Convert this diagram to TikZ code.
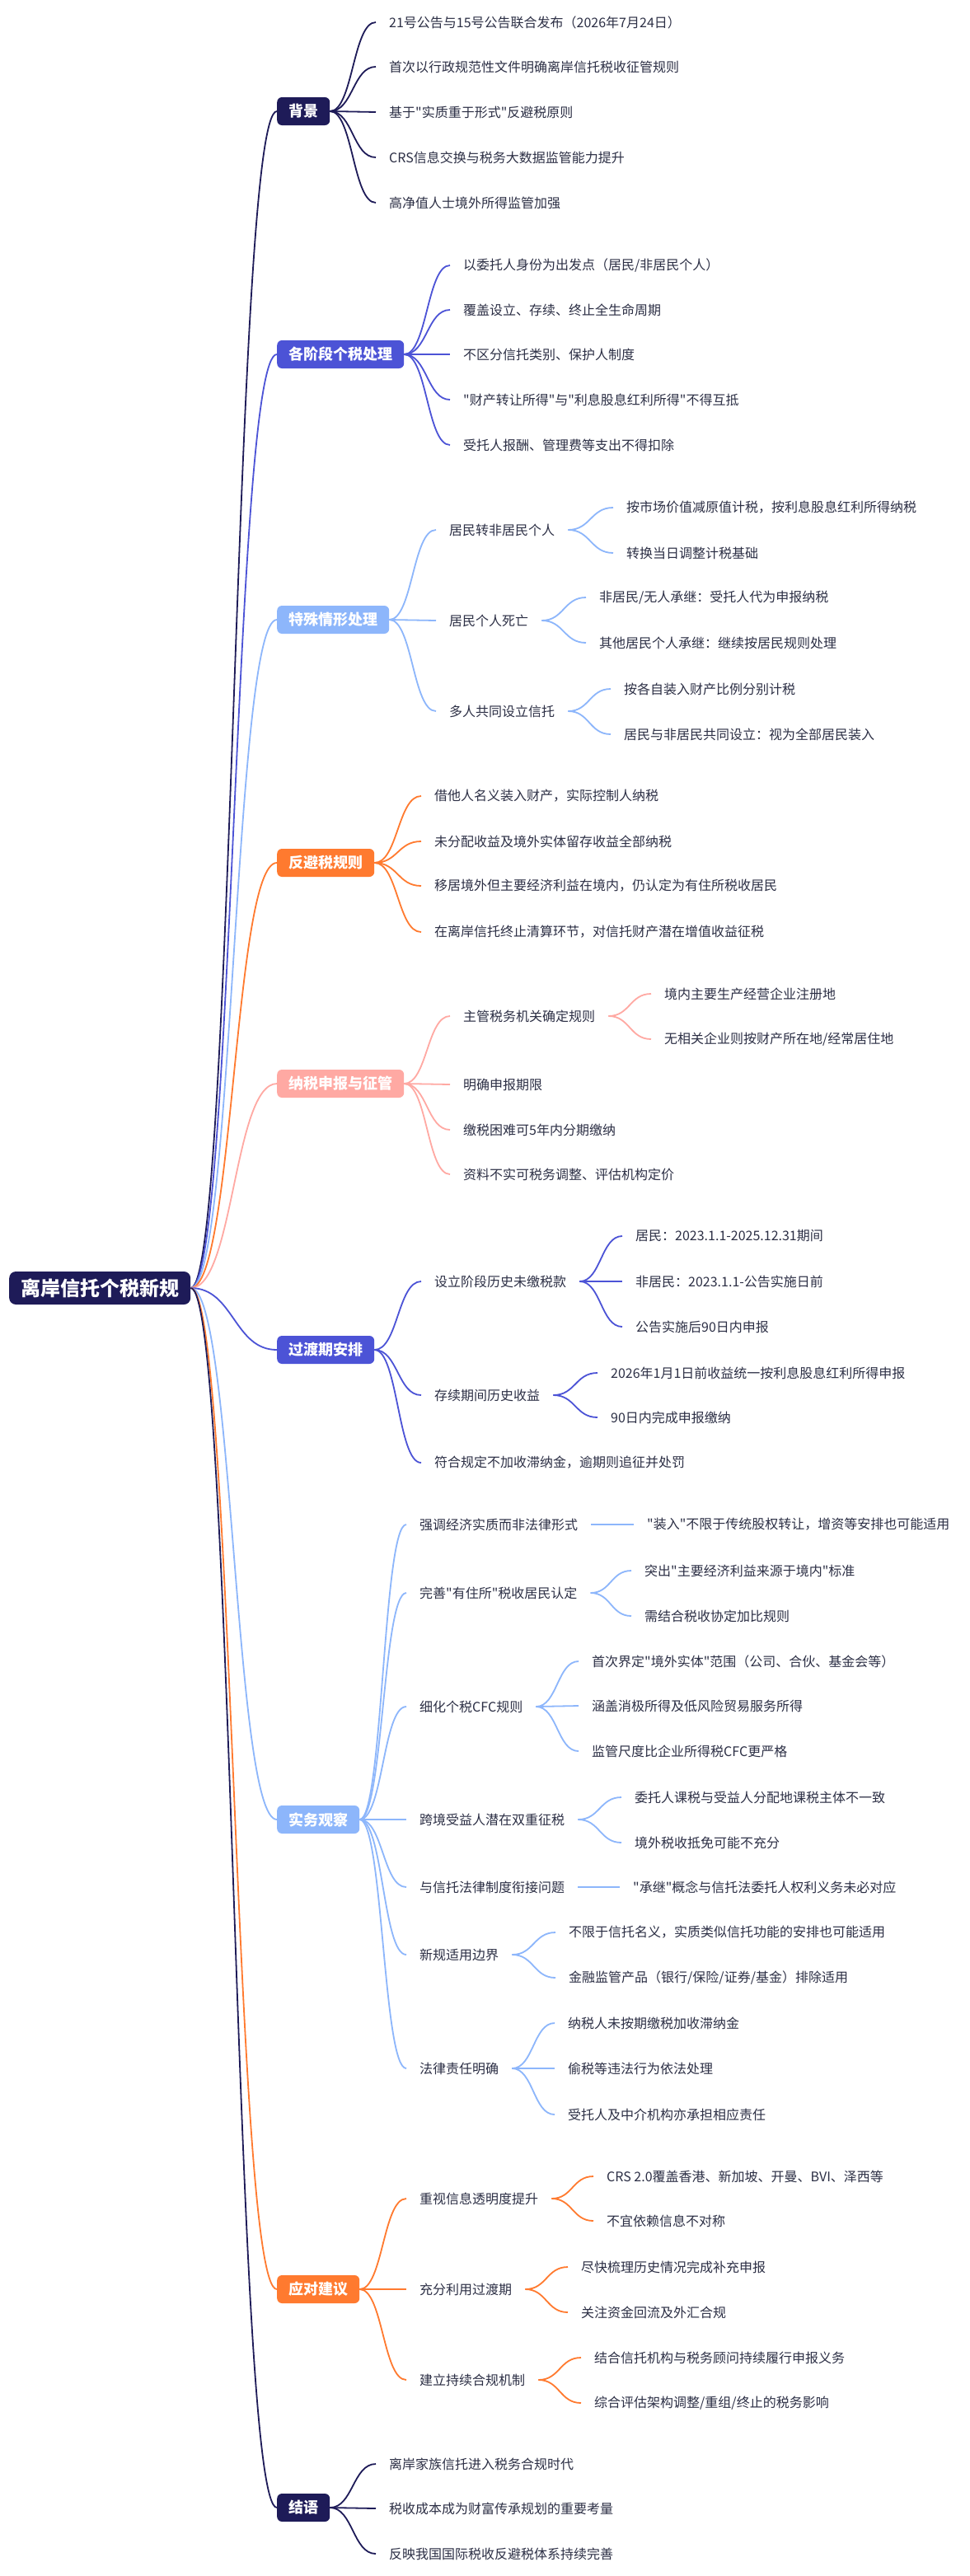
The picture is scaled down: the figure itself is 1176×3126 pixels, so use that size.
\documentclass[tikz,border=0pt]{standalone}
\usepackage{fontspec}
\setmainfont{Noto Sans CJK SC}
\newfontfamily\cjk{Noto Sans CJK SC}
\usetikzlibrary{calc}
\definecolor{cnavy}{HTML}{1E1B58}
\definecolor{cindigo}{HTML}{4C53D6}
\definecolor{clight}{HTML}{8DB6FB}
\definecolor{corange}{HTML}{FF7A2F}
\definecolor{cpink}{HTML}{FFA9A3}
\definecolor{cink}{HTML}{2C2F45}
\tikzset{
  root node/.style={fill=cnavy,text=white,font=\cjk\bfseries\fontsize{24}{28}\selectfont,rounded corners=8pt,minimum height=40pt,inner xsep=14pt,anchor=west},
  main node/.style={fill=#1,text=white,font=\cjk\bfseries\fontsize{18}{22}\selectfont,rounded corners=6pt,minimum height=34pt,inner xsep=14pt,anchor=west},
  leaf node/.style={text=cink,font=\cjk\fontsize{16}{20}\selectfont,inner xsep=16pt,inner ysep=2pt,anchor=west},
  link/.style={draw=#1,line width=1.8pt,
    to path={let \p1=(\tikztostart), \p2=(\tikztotarget) in
      (\p1) .. controls ({(\x1+\x2)/2},\y1) and ({(\x1+\x2)/2},\y2) .. (\p2)}}
}
\begin{document}
\begin{tikzpicture}[x=1pt,y=-1pt]
        \useasboundingbox[fill=white] (0,0) rectangle (1176,3126);
        % root and main branches
        \node[root node] at (11,1563) (root) {离岸信托个税新规};
        \node[main node=cnavy] at (336,135) (bg) {背景};
        \node[main node=cindigo] at (336,430) (st) {各阶段个税处理};
        \node[main node=clight] at (336,752) (sp) {特殊情形处理};
        \node[main node=corange] at (336,1047) (aa) {反避税规则};
        \node[main node=cpink] at (336,1315) (tx) {纳税申报与征管};
        \node[main node=cindigo] at (336,1638) (tr) {过渡期安排};
        \node[main node=clight] at (336,2208) (pr) {实务观察};
        \node[main node=corange] at (336,2778) (ad) {应对建议};
        \node[main node=cnavy] at (336,3043) (cc) {结语};

        % 背景
        \node[leaf node] at (456,27) (bg1) {21号公告与15号公告联合发布（2026年7月24日）};
        \node[leaf node] at (456,81) (bg2) {首次以行政规范性文件明确离岸信托税收征管规则};
        \node[leaf node] at (456,136) (bg3) {基于"实质重于形式"反避税原则};
        \node[leaf node] at (456,191) (bg4) {CRS信息交换与税务大数据监管能力提升};
        \node[leaf node] at (456,246) (bg5) {高净值人士境外所得监管加强};

        % 各阶段个税处理
        \node[leaf node] at (546,322) (st1) {以委托人身份为出发点（居民/非居民个人）};
        \node[leaf node] at (546,376) (st2) {覆盖设立、存续、终止全生命周期};
        \node[leaf node] at (546,430) (st3) {不区分信托类别、保护人制度};
        \node[leaf node] at (546,485) (st4) {"财产转让所得"与"利息股息红利所得"不得互抵};
        \node[leaf node] at (546,540) (st5) {受托人报酬、管理费等支出不得扣除};

        % 特殊情形处理
        \node[leaf node] at (529,643) (sp1) {居民转非居民个人};
        \node[leaf node] at (529,753) (sp2) {居民个人死亡};
        \node[leaf node] at (529,863) (sp3) {多人共同设立信托};
        \node[leaf node] at (744,616) (sp11) {按市场价值减原值计税，按利息股息红利所得纳税};
        \node[leaf node] at (744,671) (sp12) {转换当日调整计税基础};
        \node[leaf node] at (711,725) (sp21) {非居民/无人承继：受托人代为申报纳税};
        \node[leaf node] at (711,780) (sp22) {其他居民个人承继：继续按居民规则处理};
        \node[leaf node] at (741,836) (sp31) {按各自装入财产比例分别计税};
        \node[leaf node] at (741,891) (sp32) {居民与非居民共同设立：视为全部居民装入};

        % 反避税规则
        \node[leaf node] at (511,966) (aa1) {借他人名义装入财产，实际控制人纳税};
        \node[leaf node] at (511,1021) (aa2) {未分配收益及境外实体留存收益全部纳税};
        \node[leaf node] at (511,1075) (aa3) {移居境外但主要经济利益在境内，仍认定为有住所税收居民};
        \node[leaf node] at (511,1131) (aa4) {在离岸信托终止清算环节，对信托财产潜在增值收益征税};

        % 纳税申报与征管
        \node[leaf node] at (546,1233) (tx1) {主管税务机关确定规则};
        \node[leaf node] at (546,1316) (tx2) {明确申报期限};
        \node[leaf node] at (546,1371) (tx3) {缴税困难可5年内分期缴纳};
        \node[leaf node] at (546,1425) (tx4) {资料不实可税务调整、评估机构定价};
        \node[leaf node] at (790,1206) (tx11) {境内主要生产经营企业注册地};
        \node[leaf node] at (790,1261) (tx12) {无相关企业则按财产所在地/经常居住地};

        % 过渡期安排
        \node[leaf node] at (511,1555) (tr1) {设立阶段历史未缴税款};
        \node[leaf node] at (511,1693) (tr2) {存续期间历史收益};
        \node[leaf node] at (511,1775) (tr3) {符合规定不加收滞纳金，逾期则追征并处罚};
        \node[leaf node] at (755,1500) (tr11) {居民：2023.1.1-2025.12.31期间};
        \node[leaf node] at (755,1555) (tr12) {非居民：2023.1.1-公告实施日前};
        \node[leaf node] at (755,1610) (tr13) {公告实施后90日内申报};
        \node[leaf node] at (725,1666) (tr21) {2026年1月1日前收益统一按利息股息红利所得申报};
        \node[leaf node] at (725,1720) (tr22) {90日内完成申报缴纳};

        % 实务观察
        \node[leaf node] at (493,1850) (pr1) {强调经济实质而非法律形式};
        \node[leaf node] at (493,1933) (pr2) {完善"有住所"税收居民认定};
        \node[leaf node] at (493,2071) (pr3) {细化个税CFC规则};
        \node[leaf node] at (493,2208) (pr4) {跨境受益人潜在双重征税};
        \node[leaf node] at (493,2290) (pr5) {与信托法律制度衔接问题};
        \node[leaf node] at (493,2372) (pr6) {新规适用边界};
        \node[leaf node] at (493,2510) (pr7) {法律责任明确};
        \node[leaf node] at (769,1850) (pr11) {"装入"不限于传统股权转让，增资等安排也可能适用};
        \node[leaf node] at (766,1906) (pr21) {突出"主要经济利益来源于境内"标准};
        \node[leaf node] at (766,1961) (pr22) {需结合税收协定加比规则};
        \node[leaf node] at (702,2016) (pr31) {首次界定"境外实体"范围（公司、合伙、基金会等）};
        \node[leaf node] at (702,2070) (pr32) {涵盖消极所得及低风险贸易服务所得};
        \node[leaf node] at (702,2125) (pr33) {监管尺度比企业所得税CFC更严格};
        \node[leaf node] at (754,2181) (pr41) {委托人课税与受益人分配地课税主体不一致};
        \node[leaf node] at (754,2236) (pr42) {境外税收抵免可能不充分};
        \node[leaf node] at (752,2290) (pr51) {"承继"概念与信托法委托人权利义务未必对应};
        \node[leaf node] at (674,2345) (pr61) {不限于信托名义，实质类似信托功能的安排也可能适用};
        \node[leaf node] at (674,2400) (pr62) {金融监管产品（银行/保险/证券/基金）排除适用};
        \node[leaf node] at (673,2455) (pr71) {纳税人未按期缴税加收滞纳金};
        \node[leaf node] at (673,2510) (pr72) {偷税等违法行为依法处理};
        \node[leaf node] at (673,2566) (pr73) {受托人及中介机构亦承担相应责任};

        % 应对建议
        \node[leaf node] at (493,2668) (ad1) {重视信息透明度提升};
        \node[leaf node] at (493,2778) (ad2) {充分利用过渡期};
        \node[leaf node] at (493,2888) (ad3) {建立持续合规机制};
        \node[leaf node] at (720,2641) (ad11) {CRS 2.0覆盖香港、新加坡、开曼、BVI、泽西等};
        \node[leaf node] at (720,2695) (ad12) {不宜依赖信息不对称};
        \node[leaf node] at (689,2751) (ad21) {尽快梳理历史情况完成补充申报};
        \node[leaf node] at (689,2806) (ad22) {关注资金回流及外汇合规};
        \node[leaf node] at (705,2861) (ad31) {结合信托机构与税务顾问持续履行申报义务};
        \node[leaf node] at (705,2916) (ad32) {综合评估架构调整/重组/终止的税务影响};

        % 结语
        \node[leaf node] at (456,2990) (cc1) {离岸家族信托进入税务合规时代};
        \node[leaf node] at (456,3044) (cc2) {税收成本成为财富传承规划的重要考量};
        \node[leaf node] at (456,3099) (cc3) {反映我国国际税收反避税体系持续完善};

        \path
            (root.east) edge[link=cnavy] (bg.west)
            (root.east) edge[link=cindigo] (st.west)
            (root.east) edge[link=clight] (sp.west)
            (root.east) edge[link=corange] (aa.west)
            (root.east) edge[link=cpink] (tx.west)
            (root.east) edge[link=cindigo] (tr.west)
            (root.east) edge[link=clight] (pr.west)
            (root.east) edge[link=corange] (ad.west)
            (root.east) edge[link=cnavy] (cc.west)
            (bg.east) edge[link=cnavy] (bg1.west)
            (bg.east) edge[link=cnavy] (bg2.west)
            (bg.east) edge[link=cnavy] (bg3.west)
            (bg.east) edge[link=cnavy] (bg4.west)
            (bg.east) edge[link=cnavy] (bg5.west)
            (st.east) edge[link=cindigo] (st1.west)
            (st.east) edge[link=cindigo] (st2.west)
            (st.east) edge[link=cindigo] (st3.west)
            (st.east) edge[link=cindigo] (st4.west)
            (st.east) edge[link=cindigo] (st5.west)
            (sp.east) edge[link=clight] (sp1.west)
            (sp.east) edge[link=clight] (sp2.west)
            (sp.east) edge[link=clight] (sp3.west)
            (sp1.east) edge[link=clight] (sp11.west)
            (sp1.east) edge[link=clight] (sp12.west)
            (sp2.east) edge[link=clight] (sp21.west)
            (sp2.east) edge[link=clight] (sp22.west)
            (sp3.east) edge[link=clight] (sp31.west)
            (sp3.east) edge[link=clight] (sp32.west)
            (aa.east) edge[link=corange] (aa1.west)
            (aa.east) edge[link=corange] (aa2.west)
            (aa.east) edge[link=corange] (aa3.west)
            (aa.east) edge[link=corange] (aa4.west)
            (tx.east) edge[link=cpink] (tx1.west)
            (tx.east) edge[link=cpink] (tx2.west)
            (tx.east) edge[link=cpink] (tx3.west)
            (tx.east) edge[link=cpink] (tx4.west)
            (tx1.east) edge[link=cpink] (tx11.west)
            (tx1.east) edge[link=cpink] (tx12.west)
            (tr.east) edge[link=cindigo] (tr1.west)
            (tr.east) edge[link=cindigo] (tr2.west)
            (tr.east) edge[link=cindigo] (tr3.west)
            (tr1.east) edge[link=cindigo] (tr11.west)
            (tr1.east) edge[link=cindigo] (tr12.west)
            (tr1.east) edge[link=cindigo] (tr13.west)
            (tr2.east) edge[link=cindigo] (tr21.west)
            (tr2.east) edge[link=cindigo] (tr22.west)
            (pr.east) edge[link=clight] (pr1.west)
            (pr.east) edge[link=clight] (pr2.west)
            (pr.east) edge[link=clight] (pr3.west)
            (pr.east) edge[link=clight] (pr4.west)
            (pr.east) edge[link=clight] (pr5.west)
            (pr.east) edge[link=clight] (pr6.west)
            (pr.east) edge[link=clight] (pr7.west)
            (pr1.east) edge[link=clight] (pr11.west)
            (pr2.east) edge[link=clight] (pr21.west)
            (pr2.east) edge[link=clight] (pr22.west)
            (pr3.east) edge[link=clight] (pr31.west)
            (pr3.east) edge[link=clight] (pr32.west)
            (pr3.east) edge[link=clight] (pr33.west)
            (pr4.east) edge[link=clight] (pr41.west)
            (pr4.east) edge[link=clight] (pr42.west)
            (pr5.east) edge[link=clight] (pr51.west)
            (pr6.east) edge[link=clight] (pr61.west)
            (pr6.east) edge[link=clight] (pr62.west)
            (pr7.east) edge[link=clight] (pr71.west)
            (pr7.east) edge[link=clight] (pr72.west)
            (pr7.east) edge[link=clight] (pr73.west)
            (ad.east) edge[link=corange] (ad1.west)
            (ad.east) edge[link=corange] (ad2.west)
            (ad.east) edge[link=corange] (ad3.west)
            (ad1.east) edge[link=corange] (ad11.west)
            (ad1.east) edge[link=corange] (ad12.west)
            (ad2.east) edge[link=corange] (ad21.west)
            (ad2.east) edge[link=corange] (ad22.west)
            (ad3.east) edge[link=corange] (ad31.west)
            (ad3.east) edge[link=corange] (ad32.west)
            (cc.east) edge[link=cnavy] (cc1.west)
            (cc.east) edge[link=cnavy] (cc2.west)
            (cc.east) edge[link=cnavy] (cc3.west)
            ;
\end{tikzpicture}
\end{document}
